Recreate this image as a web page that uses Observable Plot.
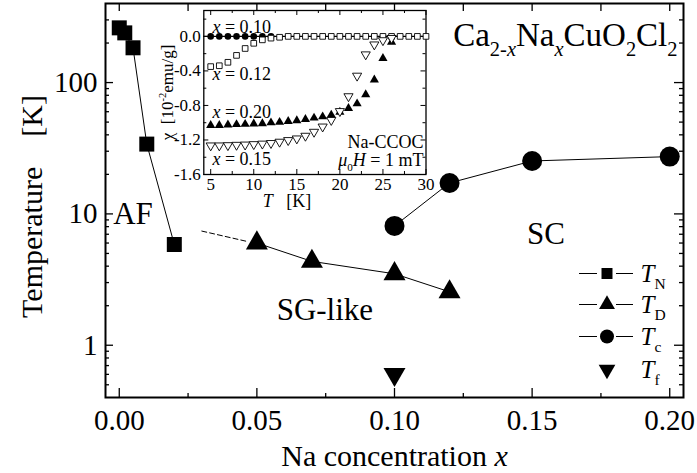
<!DOCTYPE html>
<html><head><meta charset="utf-8">
<script src="https://cdn.jsdelivr.net/npm/d3@7"></script>
<script src="https://cdn.jsdelivr.net/npm/@observablehq/plot@0.6"></script>
<style>
body{margin:0;background:#fff;}
#wrap{position:relative;width:697px;height:473px;}
#inset{position:absolute;left:150px;top:0px;}
</style></head><body><div id="wrap"><div id="main"></div><div id="inset"></div></div>
<script>
// ---------- main phase-diagram data ----------
const tnX = [0, 0.002, 0.005, 0.01, 0.02];
const tnT = [261, 239, 184, 34, 5.85];
const tdX = [0.05, 0.07, 0.10, 0.12];
const tdT = [6.0, 4.35, 3.5, 2.55];
const tcX = [0.10, 0.12, 0.15, 0.20];
const tcT = [8.1, 17.2, 25.3, 27.3];
const tfX = [0.10];
const tfT = [0.60];
const dashX = [0.03, 0.046];
const dashT = [7.4, 6.2];
const xTicks = [0, 0.05, 0.10, 0.15, 0.20];
const xMinor = [0.025, 0.075, 0.125, 0.175];
const yTicks = [1, 10, 100];
const yMinor = [0.5, 0.6, 0.7, 0.8, 0.9, 2, 3, 4, 5, 6, 7, 8, 9, 20, 30, 40, 50, 60, 70, 80, 90, 200, 300];
const legendLabels = ["*T*_{N}", "*T*_{D}", "*T*_{c}", "*T*_{f}"];
const phaseLabels = ["AF", "SC", "SG-like"];
const phaseX = [0.005, 0.155, 0.0747];
const phaseT = [10, 7, 1.84];

// ---------- inset data (chi vs T) ----------
const insT = [5,6,7,8,9,10,11,12,13,14,15,16,17,18,19,20,21,22,23,24,25,26,27,28,29,30];
const chi010 = [0,0,0,0,0,0,0,0,0,0,0,0,0,0,0,0,0,0,0,0,0,0,0,0,0,0];
const chi012 = [-0.35,-0.34,-0.30,-0.22,-0.14,-0.08,-0.04,-0.02,-0.01,0,0,0,0,0,0,0,0,0,0,0,0,0,0,0,0,0];
const insT2 = [5,6,7,8,9,10,11,12,13,14,15,16,17,18,19,20,21,22,23,24,25,26];
const chi020 = [-1.03,-1.03,-1.025,-1.02,-1.017,-1.013,-1.01,-1.0,-0.994,-0.983,-0.975,-0.96,-0.945,-0.93,-0.91,-0.876,-0.834,-0.78,-0.674,-0.503,-0.255,-0.065];
const chi015 = [-1.265,-1.265,-1.262,-1.258,-1.255,-1.25,-1.244,-1.237,-1.222,-1.203,-1.184,-1.153,-1.107,-1.046,-0.97,-0.867,-0.695,-0.457,-0.21,-0.095,-0.046,-0.02];
const insXTicks = [5, 10, 15, 20, 25, 30];
const insXMinor = [7.5, 12.5, 17.5, 22.5, 27.5];
const insYTicks = [0, -0.4, -0.8, -1.2, -1.6];
const insYMinor = [0.2, -0.2, -0.6, -1.0, -1.4];
const insLabels = ["*x* = 0.10", "*x* = 0.12", "*x* = 0.20", "*x* = 0.15"];
const insLabelChi = [0.11, -0.437, -0.883, -1.428];
const insNotes = ["Na-CCOC", "*μ*_{0}*H* = 1 mT"];
const insNoteChi = [-1.225, -1.43];

// ---------- helpers ----------
const sqrt3 = Math.sqrt(3);
const triDown = {draw(ctx, size) {const y = -Math.sqrt(size / (sqrt3 * 3)); ctx.moveTo(0, -y * 2); ctx.lineTo(sqrt3 * y, y); ctx.lineTo(-sqrt3 * y, y); ctx.closePath();}};
const zip = (xs, ys) => xs.map((x, i) => ({x, y: ys[i]}));

const W = 697, H = 473, ML = 105, MR = 14, MT = 3, MB = 76;
const FW = W - ML - MR, FH = H - MT - MB;
const xDom = [-0.005, 0.205], yDom = [0.4, 400];
const xAt = px => xDom[0] + (px - ML) / FW * (xDom[1] - xDom[0]);
const yAt = py => {const l0 = Math.log10(yDom[0]), l1 = Math.log10(yDom[1]); return 10 ** (l1 - (py - MT) / FH * (l1 - l0));};

function applyRich(svg) {
  d3.select(svg).selectAll("text").each(function () {
    const s = this.textContent;
    if (!/[_^*]/.test(s)) return;
    const el = d3.select(this); el.text(null);
    let italic = false, shift = 0;
    const SUB = 0.62;
    function emit(str, mode) {
      if (!str) return;
      const t = el.append("tspan").text(str);
      if (italic) t.attr("font-style", "italic");
      const target = mode === 1 ? 0.3 : mode === 2 ? -0.4 : 0;
      const size = mode ? SUB : 1;
      if (mode) t.attr("font-size", (SUB * 100) + "%");
      const d = target - shift;
      if (Math.abs(d) > 1e-9) t.attr("dy", (d / size).toFixed(3) + "em");
      shift = target;
    }
    let i = 0, buf = "";
    while (i < s.length) {
      const c = s[i];
      if (c === "*") { emit(buf, 0); buf = ""; italic = !italic; i++; }
      else if ((c === "_" || c === "^") && s[i + 1] === "{") {
        emit(buf, 0); buf = "";
        const j = s.indexOf("}", i);
        const parts = s.slice(i + 2, j).split("*");
        parts.forEach((p, k) => { if (k > 0) italic = !italic; emit(p, c === "_" ? 1 : 2); });
        i = j + 1;
      } else { buf += c; i++; }
    }
    emit(buf, 0);
  });
}

// ---------- main chart ----------
const legendRows = [
  {sym: "square", r: 6.2, py: 273, line: true},
  {sym: "triangle", r: 5.9, py: 304, line: true},
  {sym: "circle", r: 7, py: 336, line: true},
  {sym: triDown, r: 6.2, py: 369, line: false}
];
const legendMarks = [];
legendRows.forEach((row, k) => {
  const yv = yAt(row.py);
  if (row.line) {
    legendMarks.push(Plot.ruleY([yv], {y: d => d, insetLeft: 579 - ML, insetRight: W - MR - 597, stroke: "black", strokeWidth: 1}));
    legendMarks.push(Plot.ruleY([yv], {y: d => d, insetLeft: 616 - ML, insetRight: W - MR - 633, stroke: "black", strokeWidth: 1}));
  }
  legendMarks.push(Plot.dot([0], {x: () => xAt(606.5), y: () => yv, symbol: row.sym, r: row.r, fill: "black", stroke: "none"}));
  legendMarks.push(Plot.text([legendLabels[k]], {x: () => xAt(640), y: () => yv, text: d => d, textAnchor: "start", lineAnchor: "middle", fontSize: 25}));
});

const main = Plot.plot({
  width: W, height: H, marginLeft: ML, marginRight: MR, marginTop: MT, marginBottom: MB,
  x: {domain: xDom},
  y: {type: "log", domain: yDom},
  style: {fontFamily: "Liberation Serif", color: "black", background: "white"},
  marks: [
    Plot.ruleX(xTicks, {x: d => d, insetTop: FH - 9, strokeWidth: 1.3}),
    Plot.ruleX(xMinor, {x: d => d, insetTop: FH - 4, strokeWidth: 1.3}),
    Plot.ruleX(xTicks.concat(xMinor), {x: d => d, insetBottom: FH - 8, strokeWidth: 1.3}),
    Plot.ruleY(yTicks, {y: d => d, insetRight: FW - 8, strokeWidth: 1.3}),
    Plot.ruleY(yMinor, {y: d => d, insetRight: FW - 4, strokeWidth: 1.3}),
    Plot.ruleY(yTicks, {y: d => d, insetLeft: FW - 9, strokeWidth: 1.3}),
    Plot.ruleY(yMinor, {y: d => d, insetLeft: FW - 4, strokeWidth: 1.3}),
    Plot.frame({stroke: "black", strokeWidth: 2}),
    Plot.axisX(xTicks, {tickSize: 0, tickPadding: 12, tickFormat: d => d.toFixed(2), fontSize: 29, label: null}),
    Plot.axisY(yTicks, {tickSize: 0, tickPadding: 8, tickFormat: d => String(d), fontSize: 29, label: null}),
    Plot.line(zip(tnX, tnT), {x: "x", y: "y", stroke: "black", strokeWidth: 1}),
    Plot.line(zip(tdX, tdT), {x: "x", y: "y", stroke: "black", strokeWidth: 1}),
    Plot.line(zip(tcX, tcT), {x: "x", y: "y", stroke: "black", strokeWidth: 1}),
    Plot.line(zip(dashX, dashT), {x: "x", y: "y", stroke: "black", strokeWidth: 1, strokeDasharray: "5,3"}),
    Plot.dot(zip(tnX, tnT), {x: "x", y: "y", symbol: "square", r: 8.46, fill: "black", stroke: "none"}),
    Plot.dot(zip(tdX, tdT), {x: "x", y: "y", symbol: "triangle", r: 8.17, fill: "black", stroke: "none"}),
    Plot.dot(zip(tcX, tcT), {x: "x", y: "y", symbol: "circle", r: 10, fill: "black", stroke: "none"}),
    Plot.dot(zip(tfX, tfT), {x: "x", y: "y", symbol: triDown, r: 8.17, fill: "black", stroke: "none"}),
    Plot.text(phaseLabels.map((t, i) => ({t, x: phaseX[i], y: phaseT[i]})), {x: "x", y: "y", text: "t", fontSize: 31}),
    Plot.text(["Ca_{2-*x*}Na_{*x*}CuO_{2}Cl_{2}"], {frameAnchor: "top-right", dx: -6, dy: 32, text: d => d, textAnchor: "end", lineAnchor: "middle", fontSize: 33}),
    Plot.text(["Na concentration *x*"], {frameAnchor: "bottom", dy: 59, text: d => d, textAnchor: "middle", lineAnchor: "middle", fontSize: 30}),
    Plot.text(["Temperature\u00a0\u00a0\u00a0\u00a0[K]"], {frameAnchor: "left", dx: -73, dy: 6, rotate: -90, text: d => d, textAnchor: "middle", lineAnchor: "middle", fontSize: 30}),
    ...legendMarks
  ]
});
document.getElementById("main").appendChild(main);
applyRich(main);

// ---------- inset ----------
const IW = 290, IH = 215, IML = 53.3, IMR = 14.5, IMT = 10, IMB = 41;
const IFW = IW - IML - IMR, IFH = IH - IMT - IMB;
const inset = Plot.plot({
  width: IW, height: IH, marginLeft: IML, marginRight: IMR, marginTop: IMT, marginBottom: IMB,
  x: {domain: [4.2, 30]},
  y: {domain: [-1.6, 0.3]},
  style: {fontFamily: "Liberation Serif", color: "black", background: "transparent", overflow: "visible"},
  marks: [
    Plot.ruleX(insXTicks, {x: d => d, insetTop: IFH - 5}),
    Plot.ruleX(insXMinor, {x: d => d, insetTop: IFH - 3}),
    Plot.ruleX(insXTicks, {x: d => d, insetBottom: IFH - 5}),
    Plot.ruleX(insXMinor, {x: d => d, insetBottom: IFH - 3}),
    Plot.ruleY(insYTicks, {y: d => d, insetRight: IFW - 5}),
    Plot.ruleY(insYMinor, {y: d => d, insetRight: IFW - 3}),
    Plot.ruleY(insYTicks, {y: d => d, insetLeft: IFW - 5}),
    Plot.ruleY(insYMinor, {y: d => d, insetLeft: IFW - 3}),
    Plot.frame({stroke: "black", strokeWidth: 1.3}),
    Plot.axisX(insXTicks, {tickSize: 0, tickPadding: 3, fontSize: 17, label: null}),
    Plot.axisY(insYTicks, {tickSize: 0, tickPadding: 3, tickFormat: d => d.toFixed(1), fontSize: 17, label: null}),
    Plot.ruleY([0], {stroke: "black", strokeWidth: 1.2}),
    Plot.dot(zip(insT.slice(0, 8), chi010.slice(0, 8)), {x: "x", y: "y", r: 3.3, fill: "black", stroke: "none"}),
    Plot.dot(zip(insT, chi012), {x: "x", y: "y", symbol: "square", r: 3.2, fill: "white", stroke: "black", strokeWidth: 0.9}),
    Plot.dot(zip(insT2, chi020), {x: "x", y: "y", symbol: "triangle", r: 3.4, fill: "black", stroke: "none"}),
    Plot.dot(zip(insT2, chi015), {x: "x", y: "y", symbol: triDown, r: 3.4, fill: "white", stroke: "black", strokeWidth: 0.9}),
    Plot.text(insLabels, {x: () => 5.2, y: (d, i) => insLabelChi[i], text: d => d, textAnchor: "start", lineAnchor: "middle", fontSize: 18}),
    Plot.text(insNotes, {x: () => 29.7, y: (d, i) => insNoteChi[i], text: d => d, textAnchor: "end", lineAnchor: "middle", fontSize: 18}),
    Plot.text(["χ\u00a0\u00a0[10^{-2}emu/g]"], {frameAnchor: "left", dx: -36.3, rotate: -90, text: d => d, textAnchor: "middle", lineAnchor: "middle", fontSize: 17}),
    Plot.text(["*T*\u00a0\u00a0\u00a0[K]"], {frameAnchor: "bottom", dx: -28, dy: 27, text: d => d, textAnchor: "middle", lineAnchor: "middle", fontSize: 18})
  ]
});
document.getElementById("inset").appendChild(inset);
applyRich(inset);
</script></body></html>
